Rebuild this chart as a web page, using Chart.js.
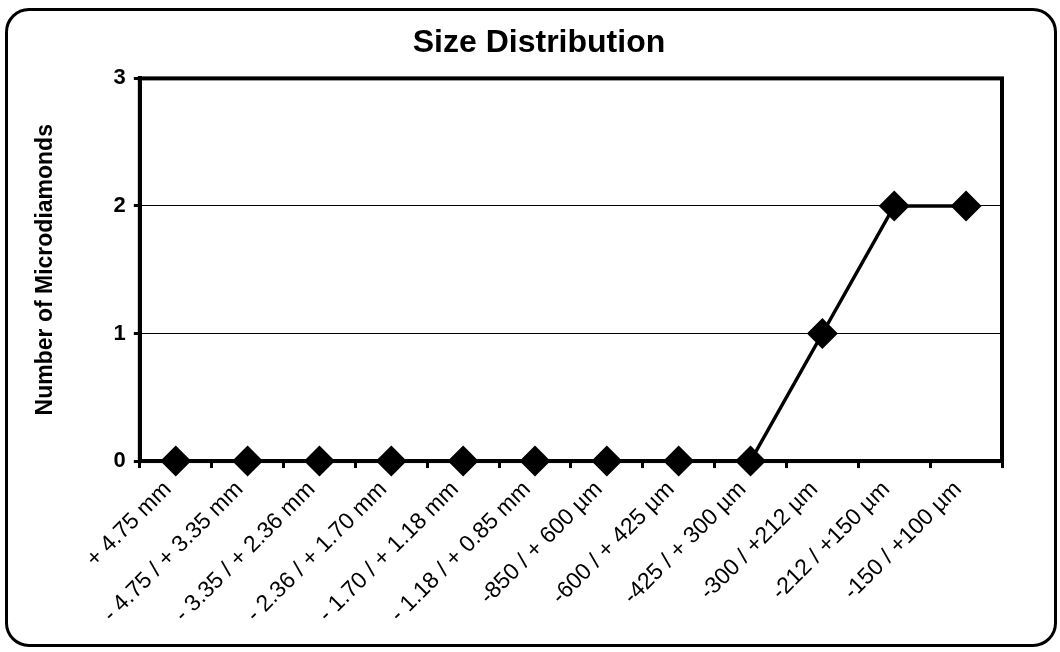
<!DOCTYPE html>
<html>
<head>
<meta charset="utf-8">
<script src="https://cdn.jsdelivr.net/npm/chart.js@4.4.0/dist/chart.umd.min.js"></script>
<style>
  html, body { margin: 0; padding: 0; background: #fff; }
  #wrap { position: relative; width: 1060px; height: 652px; }
  #frame {
    position: absolute; left: 5px; top: 8px; width: 1046px; height: 633px;
    border: 3px solid #000; border-radius: 24px; pointer-events: none;
  }
</style>
</head>
<body>
<div id="wrap">
  <canvas id="sizeChart" width="1060" height="652"></canvas>
  <div id="frame"></div>
</div>
<script>
// size fractions (x axis)
const sizeClasses = [
    '+ 4.75 mm',
    '- 4.75 / + 3.35 mm',
    '- 3.35 / + 2.36 mm',
    '- 2.36 / + 1.70 mm',
    '- 1.70 / + 1.18 mm',
    '- 1.18 / + 0.85 mm',
    '-850 / + 600 µm',
    '-600 / + 425 µm',
    '-425 / + 300 µm',
    '-300 / +212 µm',
    '-212 / +150 µm',
    '-150 / +100 µm'
];
// number of microdiamonds per fraction
const diamondCounts = [0, 0, 0, 0, 0, 0, 0, 0, 0, 1, 2, 2];
const yTicks = [0, 1, 2, 3];

const FONT = 'Liberation Sans, Arial, sans-serif';

// black box around the plot area, drawn under the line
const plotBox = {
    id: 'plotBox',
    afterLayout(chart) {
        // title sits a little right of the page centre in the original
        if (chart.titleBlock) chart.titleBlock.left += 44;
    },
    beforeDatasetsDraw(chart) {
        const a = chart.chartArea;
        const ctx = chart.ctx;
        ctx.save();
        ctx.strokeStyle = '#000';
        ctx.lineWidth = 4;
        ctx.strokeRect(a.left, a.top, a.right - a.left, a.bottom - a.top);
        ctx.restore();
    }
};

document.addEventListener('DOMContentLoaded', function() {
    const ctx = document.getElementById('sizeChart');
    new Chart(ctx, {
        type: 'line',
        data: {
            labels: sizeClasses,
            datasets: [{
                label: 'Microdiamonds',
                data: diamondCounts,
                borderColor: '#000',
                backgroundColor: '#000',
                borderWidth: 3.5,
                pointStyle: 'rectRot',
                pointRadius: 13,
                pointHoverRadius: 13,
                tension: 0,
                fill: false,
                clip: false
            }]
        },
        options: {
            responsive: false,
            animation: false,
            layout: {
                padding: { left: 32, right: 58, top: 0, bottom: 16 }
            },
            plugins: {
                legend: { display: false },
                tooltip: { enabled: false },
                title: {
                    display: true,
                    text: 'Size Distribution',
                    color: '#000',
                    font: { family: FONT, size: 32, weight: 'bold' },
                    padding: { top: 24, bottom: 16 }
                }
            },
            scales: {
                x: {
                    offset: true,
                    grid: {
                        offset: true,
                        drawOnChartArea: false,
                        drawTicks: true,
                        tickLength: 7,
                        tickWidth: 3,
                        tickColor: '#000'
                    },
                    border: { display: true, color: '#000', width: 4 },
                    ticks: {
                        color: '#000',
                        maxRotation: 45,
                        minRotation: 45,
                        autoSkip: false,
                        padding: 8,
                        labelOffset: -8,
                        font: { family: FONT, size: 23 }
                    }
                },
                y: {
                    min: 0,
                    max: 3,
                    afterBuildTicks: function(axis) {
                        axis.ticks = yTicks.map(v => ({ value: v }));
                    },
                    grid: {
                        color: '#000',
                        lineWidth: 1,
                        tickLength: 6,
                        tickColor: '#000',
                        tickWidth: 3
                    },
                    border: { display: true, color: '#000', width: 4 },
                    ticks: {
                        color: '#000',
                        padding: 8,
                        font: { family: FONT, size: 22, weight: 'bold' }
                    },
                    title: {
                        display: true,
                        text: 'Number of Microdiamonds',
                        color: '#000',
                        padding: { top: 0, bottom: 46 },
                        font: { family: FONT, size: 23, weight: 'bold' }
                    }
                }
            }
        },
        plugins: [plotBox]
    });
});
</script>
</body>
</html>
